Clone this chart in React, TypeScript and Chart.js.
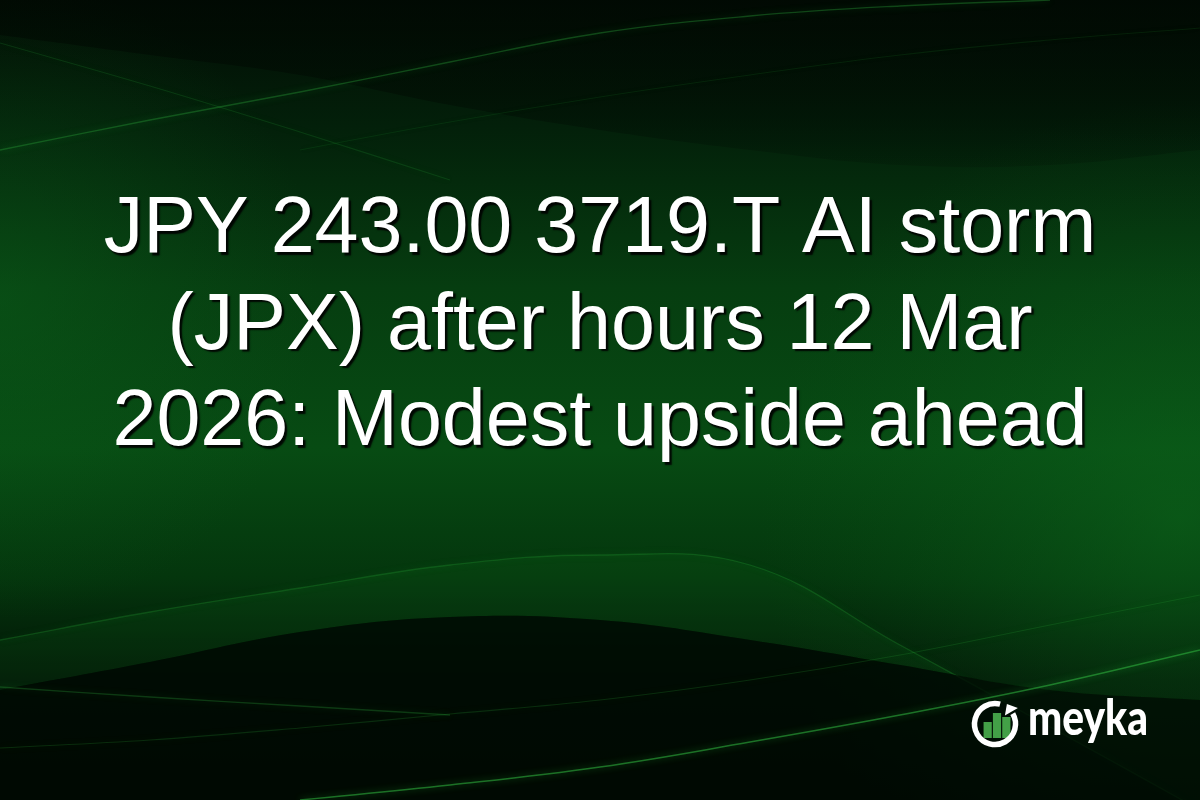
import { useEffect, useRef } from "react";
import Chart from "chart.js/auto";

const headlineLines = [
  "JPY 243.00 3719.T AI storm",
  "(JPX) after hours 12 Mar",
  "2026: Modest upside ahead",
];
const brandName = "meyka";

// logo bars (heights in px above the bar base)
const logoBarLabels = ["b1", "b2", "b3"];
const logoBarValues = [16, 25, 21];

// background streaks, read in page pixels (y measured from the top)
const waveX = [0, 150, 300, 450, 600, 750, 900, 1050, 1200];
const topShadeY = [35, 55, 75, 105, 130, 150, 165, 165, 150];
const topRiseY = [150, 120, 92, 62, 33, 16, 6, 0, null];
const topFallY = [43, 86, 132, 180, null, null, null, null, null];
const topFaintY = [null, null, 150, 122, 97, 75, 55, 40, 28];
const ribbonTopY = [640, 612, 588, 565, 555, 565, 645, 727, 810];
const humpEdgeY = [690, 662, 632, 617, 620, 640, 665, 690, 700];
const midStreakY = [748, 740, 728, 714, 700, 680, 655, 625, 595];
const leftStreakY = [687, 697, 706, 715, null, null, null, null, null];
const bottomGlowY = [null, null, 800, 785, 767, 742, 715, 685, 650];

const pts = (ys: (number | null)[]) => waveX.map((x, i) => ({ x, y: ys[i] }));

const backdrop = {
  id: "backdrop",
  beforeDraw(chart: any) {
    const { ctx, width, height } = chart;
    ctx.save();
    const g = ctx.createLinearGradient(0, 0, 0, height);
    g.addColorStop(0, "#020c04");
    g.addColorStop(0.16, "#03200a");
    g.addColorStop(0.36, "#063d10");
    g.addColorStop(0.56, "#074b13");
    g.addColorStop(0.72, "#04360d");
    g.addColorStop(0.85, "#021406");
    g.addColorStop(1, "#010a03");
    ctx.fillStyle = g;
    ctx.fillRect(0, 0, width, height);
    const glow = (x: number, y: number, r: number, c: string) => {
      const rg = ctx.createRadialGradient(x, y, 0, x, y, r);
      rg.addColorStop(0, c);
      rg.addColorStop(1, "rgba(10,90,25,0)");
      ctx.fillStyle = rg;
      ctx.fillRect(0, 0, width, height);
    };
    glow(1180, 520, 420, "rgba(14,110,30,0.5)");
    glow(0, 300, 320, "rgba(12,100,28,0.4)");
    ctx.restore();
  },
};

// soft glow on the thin streaks
const glowLines = {
  id: "glowLines",
  beforeDatasetDraw(chart: any, args: any) {
    const ds = chart.data.datasets[args.index];
    chart.ctx.save();
    if (ds.glow) {
      chart.ctx.shadowColor = ds.glow;
      chart.ctx.shadowBlur = 7;
    }
  },
  afterDatasetDraw(chart: any) {
    chart.ctx.restore();
  },
};

const overlayText = {
  id: "overlayText",
  afterDraw(chart: any) {
    const { ctx } = chart;
    ctx.save();
    ctx.font = '79px "Liberation Sans", Arial, sans-serif';
    ctx.textAlign = "center";
    ctx.textBaseline = "alphabetic";
    ctx.fillStyle = "#ffffff";
    ctx.shadowColor = "rgba(0,0,0,0.9)";
    ctx.shadowOffsetX = 2.5;
    ctx.shadowOffsetY = 2.5;
    ctx.shadowBlur = 1.5;
    headlineLines.forEach((line, i) => ctx.fillText(line, 600, 252 + i * 96.5));
    ctx.shadowColor = "transparent";
    ctx.font = '900 49px Lato, "Open Sans", sans-serif';
    ctx.textAlign = "left";
    const w = ctx.measureText(brandName).width;
    ctx.translate(1028, 735);
    ctx.scale(120 / w, 1);
    ctx.fillText(brandName, 0, 0);
    ctx.restore();
  },
};

const logoRing = {
  id: "logoRing",
  afterDatasetsDraw(chart: any) {
    const { ctx } = chart;
    const cx = 26;
    const cy = 27;
    const r = 20.5;
    const a = -Math.PI / 6;
    ctx.save();
    ctx.strokeStyle = "#ffffff";
    ctx.lineWidth = 5.5;
    ctx.beginPath();
    ctx.arc(cx, cy, r, a, -Math.PI * 0.42 + Math.PI * 2);
    ctx.stroke();
    const px = cx + r * Math.cos(a - 0.12);
    const py = cy + r * Math.sin(a - 0.12);
    const tx = Math.sin(a);
    const ty = -Math.cos(a);
    const nx = Math.cos(a);
    const ny = Math.sin(a);
    ctx.fillStyle = "#ffffff";
    ctx.beginPath();
    ctx.moveTo(px + tx * 9, py + ty * 9);
    ctx.lineTo(px + nx * 7.5, py + ny * 7.5);
    ctx.lineTo(px - nx * 7.5, py - ny * 7.5);
    ctx.closePath();
    ctx.fill();
    ctx.restore();
  },
};

const line = (ys: (number | null)[], color: string, width: number, extra: any = {}) => ({
  data: pts(ys),
  borderColor: color,
  borderWidth: width,
  pointRadius: 0,
  tension: 0.4,
  fill: false,
  ...extra,
});

const App = () => {
  const mainRef = useRef<HTMLCanvasElement>(null);
  const logoRef = useRef<HTMLCanvasElement>(null);

  useEffect(() => {
    if (!mainRef.current || !logoRef.current) return;
    const main = new Chart(mainRef.current, {
      type: "line",
      data: {
        datasets: [
          line(bottomGlowY, "rgba(50,185,65,0.55)", 1.5, { glow: "rgba(40,200,60,0.9)" }),
          line(midStreakY, "rgba(40,160,55,0.22)", 1.2, { glow: "rgba(40,180,60,0.6)" }),
          line(leftStreakY, "rgba(45,170,60,0.28)", 1.3, { glow: "rgba(40,180,60,0.7)" }),
          line(topRiseY, "rgba(45,170,60,0.35)", 1.3, { glow: "rgba(40,190,60,0.8)" }),
          line(topFallY, "rgba(45,170,60,0.18)", 1.1, { glow: "rgba(40,180,60,0.6)" }),
          line(topFaintY, "rgba(45,170,60,0.12)", 1.1, { glow: "rgba(40,180,60,0.5)" }),
          line(humpEdgeY, "rgba(0,0,0,0)", 0, {
            fill: { value: 800 },
            backgroundColor: "rgba(0,9,2,0.78)",
          }),
          line(ribbonTopY, "rgba(40,160,55,0.28)", 1.3, {
            fill: "-1",
            backgroundColor: "rgba(18,110,32,0.16)",
            glow: "rgba(40,180,60,0.7)",
          }),
          line(topShadeY, "rgba(0,0,0,0)", 0, {
            fill: { value: 0 },
            backgroundColor: (c: any) => {
              const g = c.chart.ctx.createLinearGradient(0, 0, 0, 175);
              g.addColorStop(0, "rgba(0,8,2,0.62)");
              g.addColorStop(0.6, "rgba(0,8,2,0.4)");
              g.addColorStop(1, "rgba(0,8,2,0.12)");
              return g;
            },
          }),
        ],
      },
      options: {
        responsive: false,
        animation: false,
        layout: { padding: 0 },
        parsing: false,
        plugins: { legend: { display: false }, tooltip: { enabled: false } },
        scales: {
          x: { type: "linear", min: 0, max: 1200, display: false },
          y: { type: "linear", min: 0, max: 800, reverse: true, display: false },
        },
      },
      plugins: [backdrop, glowLines, overlayText],
    });

    const logo = new Chart(logoRef.current, {
      type: "bar",
      data: {
        labels: logoBarLabels,
        datasets: [
          {
            data: logoBarValues,
            backgroundColor: "#43a047",
            borderWidth: 0,
            barPercentage: 0.88,
            categoryPercentage: 1,
          },
        ],
      },
      options: {
        responsive: false,
        animation: false,
        layout: { padding: { left: 14, right: 10, top: 16, bottom: 13 } },
        plugins: { legend: { display: false }, tooltip: { enabled: false } },
        scales: {
          x: { display: false },
          y: { display: false, min: 0, max: 25 },
        },
      },
      plugins: [logoRing],
    });

    return () => {
      main.destroy();
      logo.destroy();
    };
  }, []);

  return (
    <div style={{ position: "absolute", left: 0, top: 0, width: 1200, height: 800 }}>
      <canvas ref={mainRef} width={1200} height={800} style={{ position: "absolute", left: 0, top: 0 }}></canvas>
      <canvas ref={logoRef} width={52} height={54} style={{ position: "absolute", left: 969, top: 697 }}></canvas>
    </div>
  );
};

export default App;
